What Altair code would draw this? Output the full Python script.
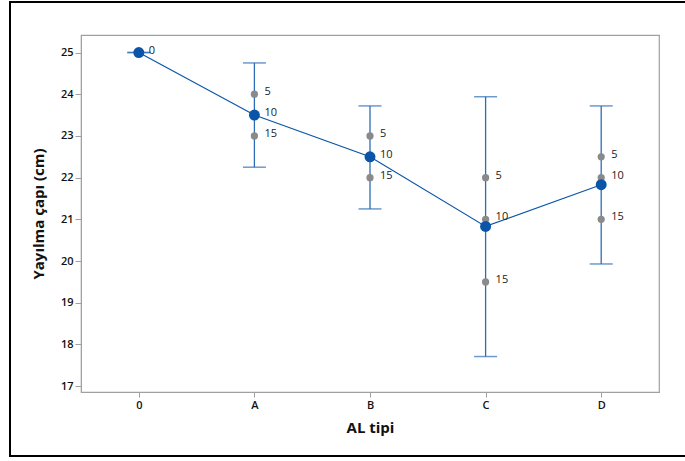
import altair as alt
import pandas as pd

# ---- data ----
cats = ["0", "A", "B", "C", "D"]
means = [25.0, 23.5, 22.5, 20.83, 21.83]
ci_low = [25.0, 22.25, 21.25, 17.71, 19.93]
ci_high = [25.0, 24.75, 23.72, 23.94, 23.72]

pt_cat = ["0", "A", "A", "A", "B", "B", "B", "C", "C", "C", "D", "D", "D"]
pt_val = [25.0, 24.0, 23.5, 23.0, 23.0, 22.5, 22.0, 22.0, 21.0, 19.5, 22.5, 22.0, 21.0]
pt_lab = ["0", "5", "10", "15", "5", "10", "15", "5", "10", "15", "5", "10", "15"]

y_ticks = [17, 18, 19, 20, 21, 22, 23, 24, 25]

summary = pd.DataFrame({"cat": cats, "mean": means, "lo": ci_low, "hi": ci_high})
points = pd.DataFrame({"cat": pt_cat, "val": pt_val, "lab": pt_lab})

FONT = "Open Sans"
BLUE = "#0a55a8"
BAR = "#2e6db6"

xscale = alt.Scale(type="point", domain=cats, padding=0.5)
xenc = alt.X("cat:N", sort=cats, title="AL tipi", scale=xscale,
             axis=alt.Axis(labelAngle=0, grid=False, ticks=True, tickSize=5,
                           tickColor="#a0a0a0", domainColor="#a0a0a0",
                           labelPadding=2, titlePadding=10))
yscale = alt.Scale(domain=[16.86, 25.42], nice=False, zero=False)
yaxis = alt.Axis(values=y_ticks, grid=False, tickSize=6, tickColor="#a0a0a0",
                 domainColor="#a0a0a0", labelPadding=2, titlePadding=14)

base_s = alt.Chart(summary)
base_p = alt.Chart(points)

rules = base_s.mark_rule(color=BAR, strokeWidth=1.3).encode(
    x=xenc,
    y=alt.Y("lo:Q", scale=yscale, axis=yaxis, title="Yayılma çapı (cm)"),
    y2="hi:Q",
)
cap_lo = base_s.mark_tick(color=BAR, thickness=1.5, size=23, orient="horizontal").encode(
    x=alt.X("cat:N", sort=cats), y=alt.Y("lo:Q"))
cap_hi = base_s.mark_tick(color=BAR, thickness=1.5, size=23, orient="horizontal").encode(
    x=alt.X("cat:N", sort=cats), y=alt.Y("hi:Q"))

dots = base_p.mark_circle(color="#8a8a8a", size=52, opacity=1).encode(
    x=alt.X("cat:N", sort=cats), y=alt.Y("val:Q"))
labels = base_p.mark_text(align="left", baseline="middle", dx=10, dy=-2,
                          font=FONT, fontSize=11, color="#222222").encode(
    x=alt.X("cat:N", sort=cats), y=alt.Y("val:Q"), text="lab:N")

line = base_s.mark_line(color=BLUE, strokeWidth=1.2).encode(
    x=alt.X("cat:N", sort=cats), y=alt.Y("mean:Q"))
mean_pts = base_s.mark_circle(color=BLUE, size=120, opacity=1).encode(
    x=alt.X("cat:N", sort=cats), y=alt.Y("mean:Q"))

# decorative outer frame of the figure (left, top, bottom edges) as thin filled rects
fdf = pd.DataFrame({"f": [0]})
frame_top = alt.Chart(fdf).mark_rect(color="#000000", strokeWidth=0, clip=False).encode(
    x=alt.value(-72), x2=alt.value(606), y=alt.value(-34), y2=alt.value(-32))
frame_bot = alt.Chart(fdf).mark_rect(color="#000000", strokeWidth=0, clip=False).encode(
    x=alt.value(-72), x2=alt.value(606), y=alt.value(420), y2=alt.value(422))
frame_left = alt.Chart(fdf).mark_rect(color="#000000", strokeWidth=0, clip=False).encode(
    x=alt.value(-72), x2=alt.value(-70), y=alt.value(-34), y2=alt.value(422))

chart = alt.layer(frame_top, frame_bot, frame_left, rules, cap_lo, cap_hi, line,
                  dots, labels, mean_pts).properties(
    width=578, height=357,
    autosize=alt.AutoSizeParams(type="none"),
    padding={"left": 81, "top": 35, "right": 26, "bottom": 69},
    background="white",
).configure_view(
    stroke="#a0a0a0", strokeWidth=1.2
).configure_axis(
    labelFont=FONT, labelFontSize=11, labelFontWeight=600, labelColor="#111111",
    titleFont=FONT, titleFontSize=15, titleFontWeight="bold", titleColor="#111111",
)

chart.save("out.html", embed_options={"renderer": "svg", "actions": False})
